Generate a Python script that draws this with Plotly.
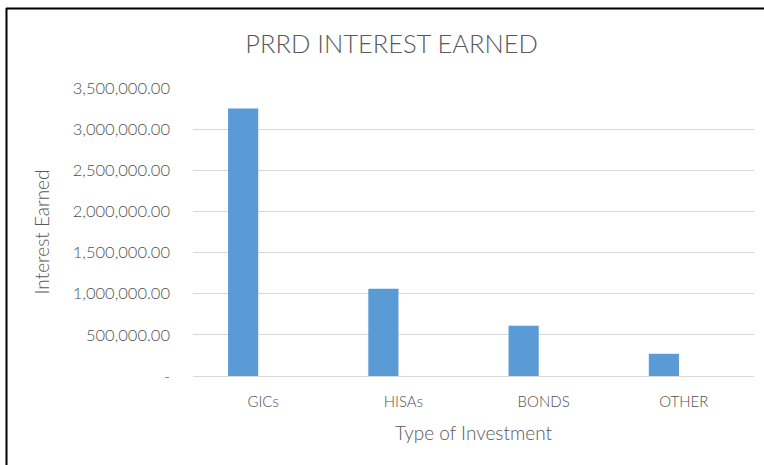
import plotly.graph_objects as go

# Interest earned per investment type
categories = ["GICs", "HISAs", "BONDS", "OTHER"]
interest_earned = [3250000, 1060000, 610000, 270000]

y_tick_values = [0, 500000, 1000000, 1500000, 2000000, 2500000, 3000000, 3500000]
y_tick_labels = ["-", "500,000.00", "1,000,000.00", "1,500,000.00", "2,000,000.00",
                 "2,500,000.00", "3,000,000.00", "3,500,000.00"]

FONT = "Lato"
GREY_TEXT = "#595959"
GRID = "#d9d9d9"
BAR = "#5b9bd5"

fig = go.Figure()
fig.add_trace(go.Bar(
    x=categories,
    y=interest_earned,
    marker=dict(color=BAR, line=dict(width=0)),
    width=0.215,
    offset=-0.25,
    hoverinfo="x+y",
))

fig.update_layout(
    width=764,
    height=465,
    margin=dict(l=193, r=10, t=88, b=89),
    paper_bgcolor="white",
    plot_bgcolor="white",
    showlegend=False,
    title=dict(
        text="PRRD INTEREST EARNED",
        font=dict(family=FONT, size=25.5, color=GREY_TEXT, weight=300),
        x=0.354, xref="paper", xanchor="center",
        y=1 - 44 / 465, yref="container", yanchor="middle",
    ),
    xaxis=dict(
        type="category",
        range=[-0.5, 3.5],
        showgrid=False,
        showline=True,
        linecolor=GRID,
        linewidth=1,
        ticks="",
        tickfont=dict(family=FONT, size=15, color="#505050", weight=300),
        ticklabelstandoff=12,
        title=dict(text="Type of Investment",
                   font=dict(family=FONT, size=19, color=GREY_TEXT, weight=300),
                   standoff=17),
    ),
    yaxis=dict(
        range=[0, 3500000],
        tickvals=y_tick_values,
        ticktext=y_tick_labels,
        showgrid=True,
        gridcolor=GRID,
        gridwidth=1,
        zeroline=False,
        showline=False,
        ticks="",
        tickfont=dict(family=FONT, size=16.5, color="#505050", weight=300),
        ticklabelstandoff=22,
        title=dict(text="Interest Earned",
                   font=dict(family=FONT, size=19, color=GREY_TEXT, weight=300),
                   standoff=18),
    ),
    shapes=[
        # outer frame: left and top edges
        dict(type="line", xref="paper", yref="paper",
             x0=(6.5 - 193) / 561, x1=(6.5 - 193) / 561,
             y0=(376 - 8) / 288, y1=(376 - 470) / 288,
             line=dict(color="black", width=2)),
        dict(type="line", xref="paper", yref="paper",
             x0=(6 - 193) / 561, x1=(770 - 193) / 561,
             y0=(376 - 8.5) / 288, y1=(376 - 8.5) / 288,
             line=dict(color="black", width=2)),
    ],
)

fig.write_html("out.html")
